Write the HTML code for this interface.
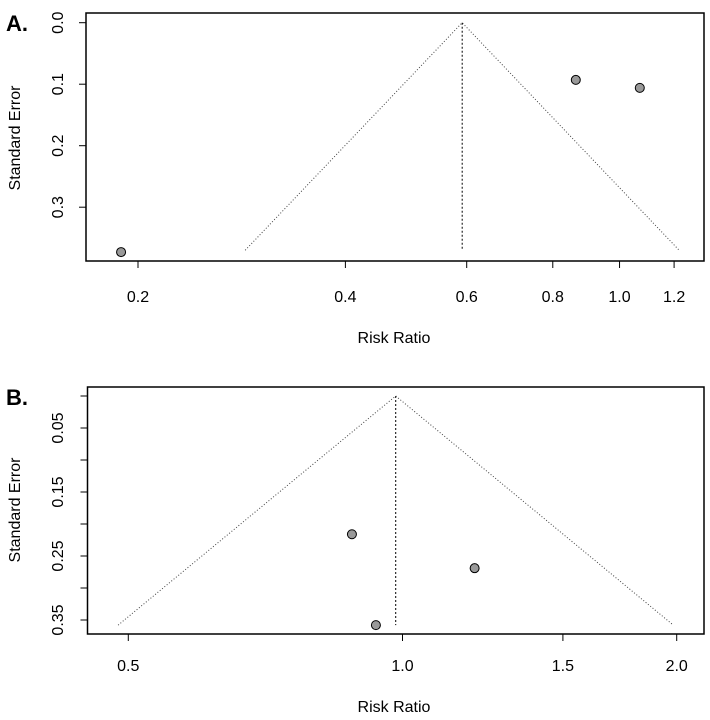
<!DOCTYPE html>
<html><head><meta charset="utf-8"><style>
body{margin:0;background:#fff;}
svg{display:block;font-family:"Liberation Sans",sans-serif;}
</style></head><body>
<svg id="c" width="710" height="720"></svg>
<script>
// Panel A data
const aRisk = [0.189, 0.864, 1.07];
const aSE = [0.373, 0.093, 0.106];
const aPooled = [0.591];
const aMaxSE = [0.370];
const aXTicks = [0.2, 0.4, 0.6, 0.8, 1.0, 1.2];
const aXTickLabels = ["0.2","0.4","0.6","0.8","1.0","1.2"];
const aYTicks = [0.0, 0.1, 0.2, 0.3];
const aYTickLabels = ["0.0","0.1","0.2","0.3"];
// Panel B data
const bRisk = [0.88, 1.20, 0.935];
const bSE = [0.216, 0.269, 0.358];
const bPooled = [0.983];
const bMaxSE = [0.358];
const bXTicks = [0.5, 1.0, 1.5, 2.0];
const bXTickLabels = ["0.5","1.0","1.5","2.0"];
const bYTicks = [0, 0.05, 0.10, 0.15, 0.20, 0.25, 0.30, 0.35];
const bYTickLabels = ["", "0.05", "", "0.15", "", "0.25", "", "0.35"];

const NS = "http://www.w3.org/2000/svg";
const svg = document.getElementById('c');
function mk(tag, attrs, parent){
  const e = document.createElementNS(NS, tag);
  for (const k in attrs) e.setAttribute(k, attrs[k]);
  (parent||svg).appendChild(e);
  return e;
}
function panel(p){
  const g = mk('g', {});
  
  
  const x = v => p.x0 + p.kx * Math.log(v / p.xref);
  const y = v => p.y0 + p.ky * v;
  const box = mk('rect', {x:p.box[0], y:p.box[1], width:p.box[2]-p.box[0], height:p.box[3]-p.box[1], fill:'none', stroke:'#000', 'stroke-width':1.5}, g);
  
  
  p.xt.forEach((t,i)=>{
    mk('line',{x1:x(t),x2:x(t),y1:p.box[3],y2:p.box[3]+7,stroke:'#000','stroke-width':1}, g);
    const tx = mk('text',{x:x(t),y:p.xLabY,'font-size':16,'text-anchor':'middle',fill:'#000'}, g);
    tx.textContent = p.xl[i];
    
    
  });
  p.yt.forEach((t,i)=>{
    mk('line',{x1:p.box[0],x2:p.box[0]-7,y1:y(t),y2:y(t),stroke:'#000','stroke-width':1}, g);
    if (p.yl[i]) {
      const tx = mk('text',{x:0,y:0,'font-size':16,'text-anchor':'middle',fill:'#000',transform:`translate(63,${y(t)}) rotate(-90)`}, g);
      tx.textContent = p.yl[i];
      
      
    }
  });
  const c = p.pooled[0], m = p.maxse[0];
  const lo = c * Math.exp(-1.96*m), hi = c * Math.exp(1.96*m);
  const fun = mk('polyline',{points:`${x(lo)},${y(m)} ${x(c)},${y(0)} ${x(hi)},${y(m)}`, fill:'none', stroke:'#444','stroke-width':1,'stroke-dasharray':'1 2'}, g);
  
  
  const cl = mk('line',{x1:x(c),x2:x(c),y1:y(0),y2:y(m),stroke:'#000','stroke-width':1,'stroke-dasharray':'2 2'}, g);
  
  
  p.rr.forEach((r,i)=>{
    const pt = mk('circle',{cx:x(r),cy:y(p.se[i]),r:4.5,fill:'#999',stroke:'#000','stroke-width':1}, g);
    
    
  });
  const xt = mk('text',{x:394,y:p.xTitleY,'font-size':16,'text-anchor':'middle'}, g);
  xt.textContent = 'Risk Ratio';
  
  
  const yt = mk('text',{x:0,y:0,'font-size':16,'text-anchor':'middle',transform:`translate(20,${p.yTitleC}) rotate(-90)`}, g);
  yt.textContent = 'Standard Error';
  
  
  const pl = mk('text',{x:6,y:p.box[1]+18,'font-size':22,'font-weight':'bold'}, g);
  pl.textContent = p.label;
  
  
}
panel({name:'panel-a', label:'A.', box:[86,13,704,261], x0:138, xref:0.2, kx:299.2, y0:22.7, ky:615,
  xt:aXTicks, xl:aXTickLabels, yt:aYTicks, yl:aYTickLabels, rr:aRisk, se:aSE, pooled:aPooled, maxse:aMaxSE,
  xLabY:302, xTitleY:343, yTitleC:138});
panel({name:'panel-b', label:'B.', box:[87.5,387,704,634], x0:402.5, xref:1.0, kx:395.6, y0:396, ky:640,
  xt:bXTicks, xl:bXTickLabels, yt:bYTicks, yl:bYTickLabels, rr:bRisk, se:bSE, pooled:bPooled, maxse:bMaxSE,
  xLabY:671, xTitleY:712, yTitleC:510});
</script>
</body></html>
